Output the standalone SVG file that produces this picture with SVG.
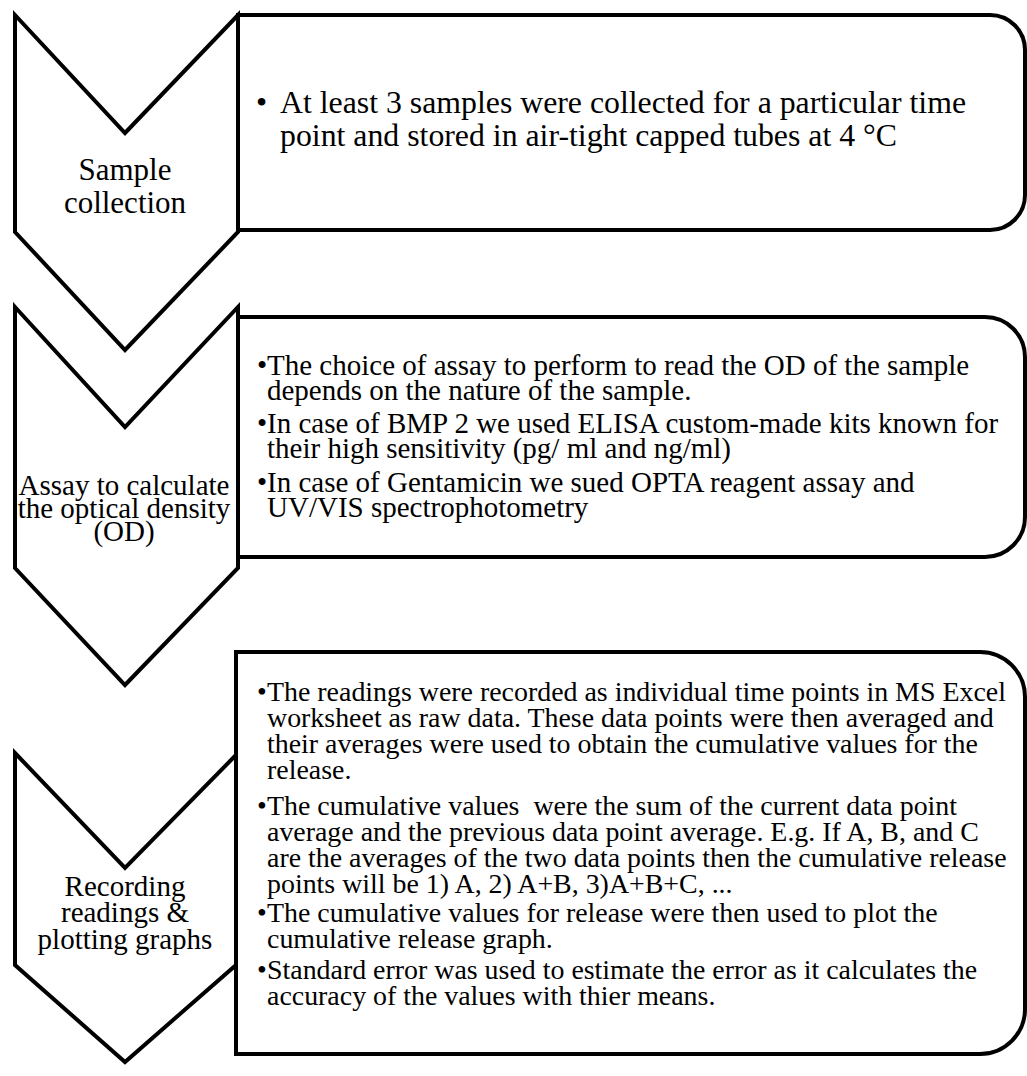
<svg xmlns="http://www.w3.org/2000/svg" width="1027" height="1076" viewBox="0 0 1027 1076">
  <style>
    .box { fill: #ffffff; stroke: #000000; stroke-width: 4; stroke-linejoin: miter; }
    .chev { fill: #ffffff; stroke: #000000; stroke-width: 4; stroke-linejoin: miter; }
    text { font-family: "Liberation Serif", "Times New Roman", serif; fill: #000000; white-space: pre; }
    .label { font-size: 29px; text-anchor: middle; }
    .label-lg { font-size: 31px; text-anchor: middle; }
    .body-md { font-size: 29px; }
    .body { font-size: 27.9px; }
    .body-lg { font-size: 31.8px; }
  </style>

  <!-- Detail panels: square left side, rounded right side -->
  <g id="panel-1">
    <path class="box" d="M238,15 H990 A35,35 0 0 1 1025,50 V195 A35,35 0 0 1 990,230 H238 Z"/>
    <text class="body-lg" x="256" y="113">•</text>
    <text class="body-lg" x="280" y="113">At least 3 samples were collected for a particular time</text>
    <text class="body-lg" x="280" y="146">point and stored in air-tight capped tubes at 4 °C</text>
  </g>

  <g id="panel-2">
    <path class="box" d="M237,317 H985 A40,40 0 0 1 1025,357 V517 A40,40 0 0 1 985,557 H237 Z"/>
    <text class="body-md" x="257" y="375">•</text>
    <text class="body-md" x="267" y="375">The choice of assay to perform to read the OD of the sample</text>
    <text class="body-md" x="267" y="400">depends on the nature of the sample.</text>
    <text class="body-md" x="257" y="433">•</text>
    <text class="body-md" x="267" y="433">In case of BMP 2 we used ELISA custom-made kits known for</text>
    <text class="body-md" x="267" y="458">their high sensitivity (pg/ ml and ng/ml)</text>
    <text class="body-md" x="257" y="492">•</text>
    <text class="body-md" x="267" y="492">In case of Gentamicin we sued OPTA reagent assay and</text>
    <text class="body-md" x="267" y="517">UV/VIS spectrophotometry</text>
  </g>

  <g id="panel-3">
    <path class="box" d="M236,652 H980 A45,45 0 0 1 1025,697 V1009 A45,45 0 0 1 980,1054 H236 Z"/>
    <text class="body" x="257" y="701">•</text>
    <text class="body" x="267" y="701">The readings were recorded as individual time points in MS Excel</text>
    <text class="body" x="267" y="727">worksheet as raw data. These data points were then averaged and</text>
    <text class="body" x="267" y="753">their averages were used to obtain the cumulative values for the</text>
    <text class="body" x="267" y="779">release.</text>
    <text class="body" x="257" y="815">•</text>
    <text class="body" x="267" y="815">The cumulative values  were the sum of the current data point</text>
    <text class="body" x="267" y="841">average and the previous data point average. E.g. If A, B, and C</text>
    <text class="body" x="267" y="867">are the averages of the two data points then the cumulative release</text>
    <text class="body" x="267" y="893">points will be 1) A, 2) A+B, 3)A+B+C, ...</text>
    <text class="body" x="257" y="922">•</text>
    <text class="body" x="267" y="922">The cumulative values for release were then used to plot the</text>
    <text class="body" x="267" y="948">cumulative release graph.</text>
    <text class="body" x="257" y="979">•</text>
    <text class="body" x="267" y="979">Standard error was used to estimate the error as it calculates the</text>
    <text class="body" x="267" y="1005">accuracy of the values with thier means.</text>
  </g>

  <!-- Step chevrons -->
  <g id="step-1">
    <polygon class="chev" points="15,15 125,133 238,15 238,232 125,350 15,232"/>
    <text class="label-lg" x="125" y="180">Sample</text>
    <text class="label-lg" x="125" y="213">collection</text>
  </g>

  <g id="step-2">
    <polygon class="chev" points="15,307 125,427 238,307 238,568 125,685 15,568"/>
    <text class="label" x="124" y="495">Assay to calculate</text>
    <text class="label" x="124" y="518">the optical density</text>
    <text class="label" x="124" y="541">(OD)</text>
  </g>

  <g id="step-3">
    <polygon class="chev" points="15,753 125,868 236,755 236,965 125,1062 15,965"/>
    <text class="label" x="125" y="896">Recording</text>
    <text class="label" x="125" y="922">readings &amp;</text>
    <text class="label" x="125" y="949">plotting graphs</text>
  </g>

  <!-- Steps are stacked directly; no separate connector lines are drawn -->
  <g id="connectors"></g>
</svg>
